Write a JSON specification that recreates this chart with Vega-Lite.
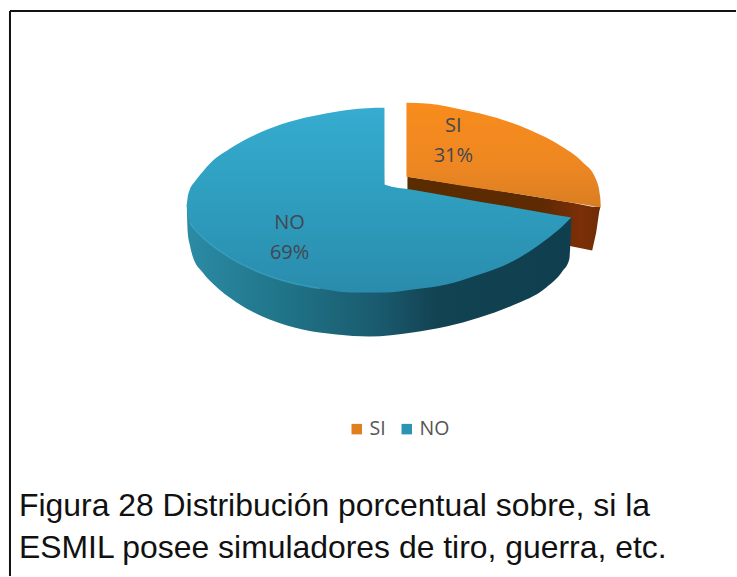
{
"$schema":"https://vega.github.io/schema/vega-lite/v6.json",
"width":737,"height":577,"padding":0,
"autosize":{"type":"fit","contains":"padding"},
"background":"white",
"config":{"view":{"stroke":null}},
"datasets":{
"slices":[{"category":"SI","value":31,"label":"SI\n31%","px":454,"py":126},{"category":"NO","value":69,"label":"NO\n69%","px":290,"py":223}],
"caption":[{"text":"Figura 28 Distribución porcentual sobre, si la","px":19,"py":517},{"text":"ESMIL posee simuladores de tiro, guerra, etc.","px":19,"py":559}],
"frameV":[{"px":10,"py":11,"py2":577}],
"frameH":[{"py":11,"px":10,"px2":737}],
"siSide":[{"px":408,"py":177,"py2":195},{"px":480,"py":188,"py2":225},{"px":573,"py":203,"py2":247},{"px":593,"py":207,"py2":251},{"px":597,"py":207,"py2":233},{"px":600,"py":207,"py2":212},{"px":601,"py":207,"py2":208}],
"siTop":[{"px":407,"py":103,"py2":177},{"px":430,"py":104,"py2":180.5},{"px":463,"py":110,"py2":186},{"px":497,"py":118,"py2":191},{"px":530,"py":130,"py2":196},{"px":563,"py":147,"py2":201.5},{"px":583,"py":162,"py2":204.5},{"px":597,"py":180,"py2":207},{"px":601,"py":197,"py2":207.5},{"px":601.5,"py":205,"py2":208}],
"noSide":[{"px":187,"py":205,"py2":205},{"px":188,"py":205,"py2":233},{"px":190,"py":205,"py2":245},{"px":193,"py":205,"py2":257},{"px":203,"py":205,"py2":273},{"px":213,"py":205,"py2":284},{"px":237,"py":205,"py2":303},{"px":270,"py":205,"py2":320},{"px":303,"py":205,"py2":330},{"px":337,"py":205,"py2":335},{"px":370,"py":205,"py2":337},{"px":413,"py":205,"py2":333},{"px":447,"py":205,"py2":327},{"px":480,"py":210,"py2":318},{"px":513,"py":215,"py2":306},{"px":547,"py":220,"py2":288},{"px":563,"py":220,"py2":272},{"px":570,"py":219,"py2":260},{"px":572,"py":218,"py2":225}],
"noTop":[{"px":187,"py":205,"py2":205},{"px":188,"py":197,"py2":214},{"px":190,"py":190,"py2":223},{"px":195,"py":182,"py2":230},{"px":203,"py":172,"py2":238},{"px":210,"py":164,"py2":244},{"px":230,"py":149,"py2":258},{"px":260,"py":133,"py2":273},{"px":290,"py":122,"py2":283},{"px":320,"py":115,"py2":289},{"px":350,"py":110,"py2":293},{"px":385,"py":108,"py2":293},{"px":385.5,"py":185,"py2":293},{"px":413,"py":190,"py2":290},{"px":447,"py":196,"py2":285},{"px":480,"py":202,"py2":275},{"px":513,"py":207.5,"py2":262},{"px":547,"py":213.5,"py2":240},{"px":563,"py":216.4,"py2":227},{"px":572,"py":218,"py2":218}],
"noRim":[{"px":190,"py":223},{"px":195,"py":230},{"px":203,"py":238},{"px":210,"py":244},{"px":230,"py":258},{"px":260,"py":273},{"px":290,"py":283},{"px":320,"py":289}]
},
"encoding":{
"x":{"field":"px","type":"quantitative","scale":{"domain":[0,737],"nice":false,"zero":false},"axis":null},
"y":{"field":"py","type":"quantitative","scale":{"domain":[577,0],"nice":false,"zero":false},"axis":null}
},
"layer":[
{"data":{"name":"frameV"},"mark":{"type":"rule","color":"#111","strokeWidth":2},"encoding":{"y2":{"field":"py2"}}},
{"data":{"name":"frameH"},"mark":{"type":"rule","color":"#111","strokeWidth":2},"encoding":{"x2":{"field":"px2"}}},
{"data":{"name":"siSide"},"mark":{"type":"area","clip":false,"color":{"gradient":"linear","x1":0,"y1":0,"x2":1,"y2":0,"stops":[{"offset":0,"color":"#5a2c00"},{"offset":0.7,"color":"#5e2a02"},{"offset":0.9,"color":"#7c2f08"},{"offset":1,"color":"#6e2d05"}]}},"encoding":{"y2":{"field":"py2"}}},
{"data":{"name":"siTop"},"mark":{"type":"area","interpolate":"monotone","color":{"gradient":"linear","x1":0,"y1":0,"x2":0,"y2":1,"stops":[{"offset":0,"color":"#f88c1c"},{"offset":0.6,"color":"#ee8722"},{"offset":1,"color":"#d97e22"}]}},"encoding":{"y2":{"field":"py2"}}},
{"data":{"name":"noSide"},"mark":{"type":"area","interpolate":"monotone","color":{"gradient":"linear","x1":0,"y1":0,"x2":1,"y2":0,"stops":[{"offset":0,"color":"#2b8ba5"},{"offset":0.25,"color":"#207488"},{"offset":0.5,"color":"#1a5a6e"},{"offset":0.65,"color":"#124353"},{"offset":1,"color":"#0f3f4f"}]}},"encoding":{"y2":{"field":"py2"}}},
{"data":{"name":"noTop"},"mark":{"type":"area","interpolate":"monotone","color":{"gradient":"linear","x1":0,"y1":0,"x2":0,"y2":1,"stops":[{"offset":0,"color":"#36acd0"},{"offset":0.45,"color":"#2f9fc0"},{"offset":1,"color":"#2a8cad"}]}},"encoding":{"y2":{"field":"py2"}}},
{"data":{"name":"noRim"},"mark":{"type":"line","interpolate":"monotone","color":"#3fb2cf","strokeWidth":1.5,"opacity":0.5}},
{"data":{"name":"slices"},"mark":{"type":"point","opacity":0,"filled":true,"size":1},
 "encoding":{"color":{"field":"category","type":"nominal","scale":{"domain":["SI","NO"],"range":["#e07f20","#2d93b5"]},
 "legend":{"orient":"none","legendX":347,"legendY":419,"direction":"horizontal","title":null,"symbolType":"square","symbolSize":110,"symbolOpacity":1,"labelFont":"Open Sans","labelFontSize":19.5,"labelColor":"#555","columnPadding":11,"labelOffset":3}}}},
{"data":{"name":"slices"},"mark":{"type":"text","font":"Open Sans","fontSize":20,"color":"#434750","lineBreak":"\n","lineHeight":30,"align":"center","baseline":"middle"},"encoding":{"text":{"field":"label"}}},
{"data":{"name":"caption"},"mark":{"type":"text","font":"Liberation Sans","fontSize":31.9,"color":"#111","align":"left","baseline":"alphabetic"},"encoding":{"text":{"field":"text"}}}
]
}
